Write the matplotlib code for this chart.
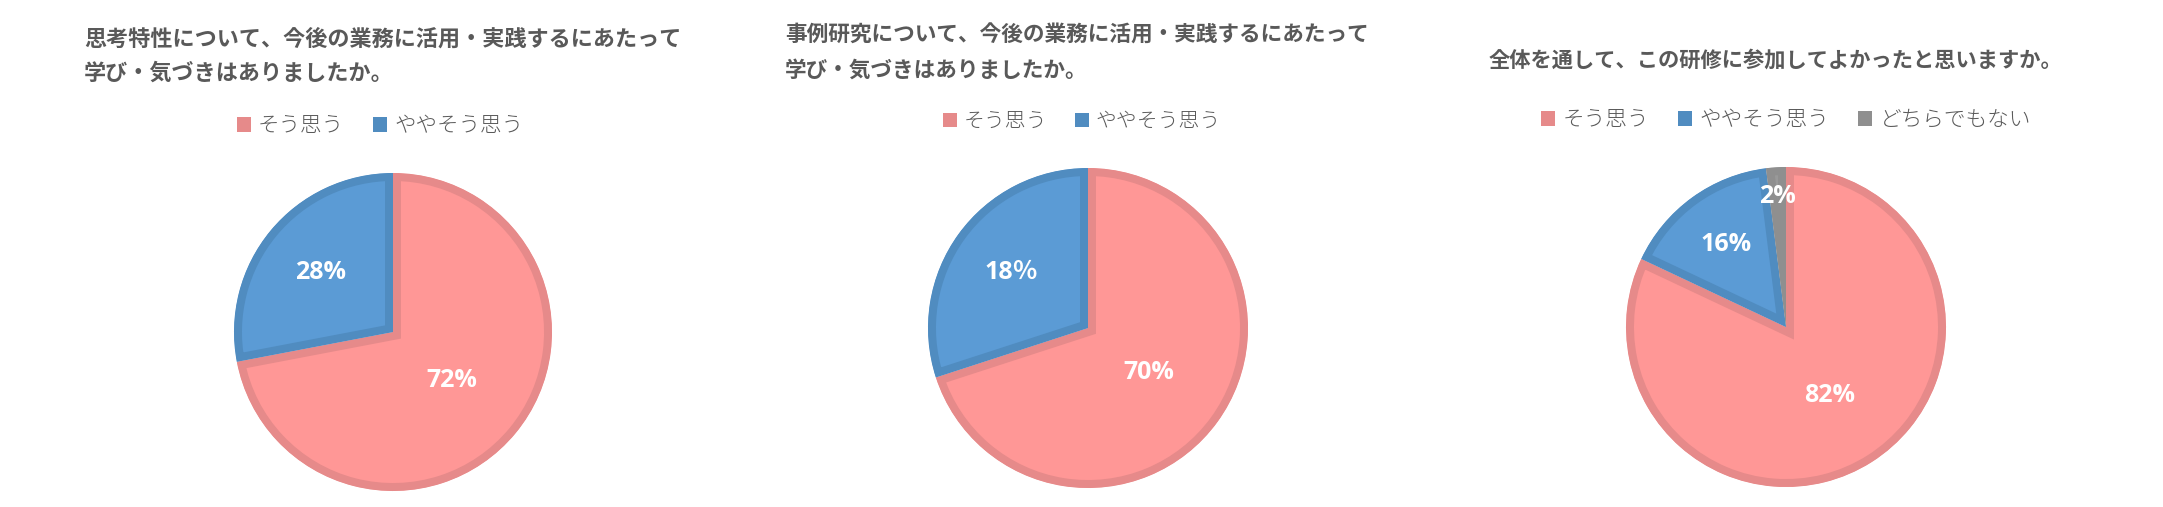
import matplotlib.pyplot as plt
from matplotlib.patches import Patch
import numpy as np

# ---- data ----
titles = [
    '思考特性について、今後の業務に活用・実践するにあたって\n学び・気づきはありましたか。',
    '事例研究について、今後の業務に活用・実践するにあたって\n学び・気づきはありましたか。',
    '全体を通して、この研修に参加してよかったと思いますか。',
]
cats_1 = ['そう思う', 'ややそう思う']
vals_1 = [72, 28]
lbls_1 = ['72%', '28%']

cats_2 = ['そう思う', 'ややそう思う']
vals_2 = [70, 30]
lbls_2 = ['70%', '18％']

cats_3 = ['そう思う', 'ややそう思う', 'どちらでもない']
vals_3 = [82, 16, 2]
lbls_3 = ['82%', '16%', '2%']

# ---- style ----
W, H = 2163, 507
fill = ['#FF9796', '#5B9BD5', '#999999']
edge = ['#E68A8A', '#508CC0', '#8F8F8F']
txt_col = '#595959'
jp = ['Noto Sans CJK JP', 'DejaVu Sans']
num = ['Open Sans', 'Noto Sans CJK JP', 'DejaVu Sans']

fig = plt.figure(figsize=(W / 100, H / 100), dpi=100)

charts = [
    dict(cats=cats_1, vals=vals_1, lbls=lbls_1, c=(393, 332), r=159, dist=[0.48, 0.59],
         title_xy=(84, 39), title_ha='left', title_fs=15.9, line_gap=34,
         leg_xy=(380, 126), leg_fs=15.5),
    dict(cats=cats_2, vals=vals_2, lbls=lbls_2, c=(1088, 328), r=160, dist=[0.47, 0.59],
         title_xy=(785, 35), title_ha='left', title_fs=15.6, line_gap=35,
         leg_xy=(1082, 121), leg_fs=15.0),
    dict(cats=cats_3, vals=vals_3, lbls=lbls_3, c=(1786, 327), r=160, dist=[0.51, 0.64, 0.82],
         title_xy=(1775, 60), title_ha='center', title_fs=15.3, line_gap=34,
         leg_xy=(1786, 120), leg_fs=15.6),
]

for i, ch in enumerate(charts):
    cx, cy = ch['c']
    r = ch['r']
    pad = 1.02
    ax = fig.add_axes([(cx - r * pad) / W, 1 - (cy + r * pad) / H,
                       2 * r * pad / W, 2 * r * pad / H])
    n = len(ch['vals'])
    wedges, _ = ax.pie(ch['vals'], colors=fill[:n], startangle=90, counterclock=False,
                       radius=1, wedgeprops=dict(edgecolor='none'))
    ax.set_xlim(-pad, pad)
    ax.set_ylim(-pad, pad)
    ax.axis('off')
    # border drawn inside each slice, like Excel: stroke clipped to the wedge path
    for k, w in enumerate(wedges):
        w.set_edgecolor(edge[k])
        w.set_linewidth(11.5)
        w.set_clip_on(True)  # pie turns clipping off
        w.set_clip_path(w.get_path(), w.get_transform())
        ang = np.deg2rad((w.theta1 + w.theta2) / 2)
        d = ch['dist'][k]
        ax.text(d * np.cos(ang), d * np.sin(ang), ch['lbls'][k], ha='center', va='center',
                color='white', fontsize=18, fontweight='bold', family=num)

    # title
    tx, ty = ch['title_xy']
    for j, line in enumerate(titles[i].split('\n')):
        fig.text(tx / W, 1 - (ty + j * ch['line_gap']) / H, line, ha=ch['title_ha'], va='center',
                 fontsize=ch['title_fs'], fontweight='bold', color=txt_col, family=jp)

    # legend
    handles = [Patch(facecolor=edge[k], edgecolor='none') for k in range(n)]
    lx, ly = ch['leg_xy']
    fig.legend(handles, ch['cats'], loc='center', bbox_to_anchor=(lx / W, 1 - ly / H),
               ncol=n, frameon=False, handlelength=0.65, handleheight=0.65,
               handletextpad=0.33, columnspacing=1.35, labelcolor=txt_col,
               prop=dict(family=jp, size=ch['leg_fs'], weight='light'))

fig.savefig('out.png', dpi=100)
